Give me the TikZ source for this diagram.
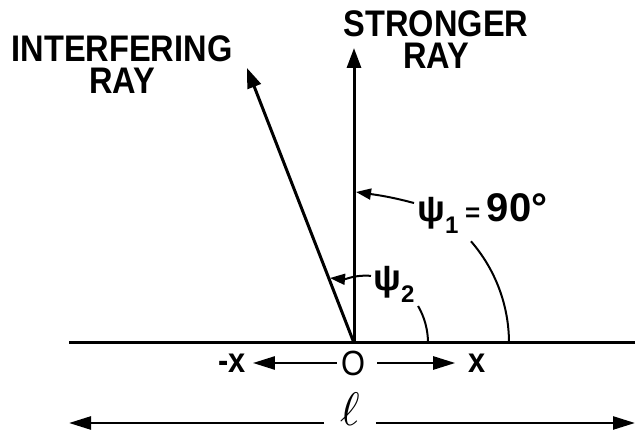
\documentclass[tikz,border=0pt]{standalone}
\usepackage{fontspec}
\usepackage{graphicx}
\usetikzlibrary{arrows.meta}
\newfontfamily\letterfont{Liberation Sans}[FakeStretch=0.88]
\newfontfamily\greekfont{Liberation Sans}
\newcommand{\psilabel}[1]{{\fontsize{37}{37}\selectfont ψ}\raisebox{-0.3em}{\fontsize{24}{24}\selectfont #1}}

\begin{document}
\begin{tikzpicture}[x=1pt, y=1pt,
    ray/.style={line width=3pt, -{Triangle[length=20pt, width=14pt]}},
    axis/.style={line width=2.5pt, -{Triangle[length=22pt, width=13pt]}},
    leader/.style={line width=2pt, -{Triangle[length=15pt, width=11pt]}},
    caps/.style={font=\letterfont\bfseries\fontsize{37}{32}\selectfont, align=center, inner sep=0pt},
    axlabel/.style={font=\letterfont\bfseries\fontsize{35}{35}\selectfont, inner sep=0pt},
    anglabel/.style={font=\greekfont\bfseries\fontsize{40}{40}\selectfont, inner sep=0pt, anchor=base west}]
    \useasboundingbox (0,0) rectangle (635,436);

    % Base line and origin
    \coordinate (orig) at (354,93);
    \coordinate (baseL) at (69,93);
    \coordinate (baseR) at (635,93);
    \draw[line width=3pt] (baseL) -- (baseR);

    % Rays
    \coordinate (strongtip) at (354,388);
    \coordinate (interftip) at (247,368);
    \draw[ray] (orig) -- (strongtip);
    \draw[ray] (orig) -- (interftip);
    \node[caps] (stronger) at (436,396) {STRONGER\\RAY};
    \node[caps] (interfering) at (122,371) {INTERFERING\\RAY};

    % Angles psi1 and psi2
    \draw[line width=2pt] (orig) ++(155,0) arc[start angle=0, end angle=41, radius=155];
    \draw[line width=2pt] (orig) ++(74,0) arc[start angle=0, end angle=30, radius=74];
    \node[anglabel] (psione) at (417,214) {\psilabel{1}\,{\fontsize{26}{26}\selectfont =}\,90°};
    \node[anglabel] (psitwo) at (373,145) {\psilabel{2}};
    \coordinate (psioneend) at (356,244);
    \coordinate (psitwoend) at (330,158);
    \draw[leader] ([shift={(-3,11)}]psione.west) to[out=165, in=-8] (psioneend);
    \draw[leader] ([shift={(-2,9)}]psitwo.west) to[out=175, in=-5] (psitwoend);

    % Directions along the base line
    \node[axlabel, font=\letterfont\mdseries\fontsize{35}{35}\selectfont] (O) at (353,73) {O};
    \node[axlabel] (minusx) at (232,73) {-x};
    \node[axlabel] (plusx) at (477,73) {x};
    \draw[axis, shorten <=4pt, shorten >=7pt] (O) -- (minusx);
    \draw[axis, shorten <=12pt, shorten >=13pt] (O) -- (plusx);

    % Length l
    \node[inner sep=0pt] (ell) at (350,27) {\scalebox{4.7}{$\ell$}};
    \coordinate (ellL) at (69,13);
    \coordinate (ellR) at (635,13);
    \draw[axis, shorten <=16pt] (ell.west |- ellL) -- (ellL);
    \draw[axis, shorten <=16pt] (ell.east |- ellR) -- (ellR);

\end{tikzpicture}
\end{document}
